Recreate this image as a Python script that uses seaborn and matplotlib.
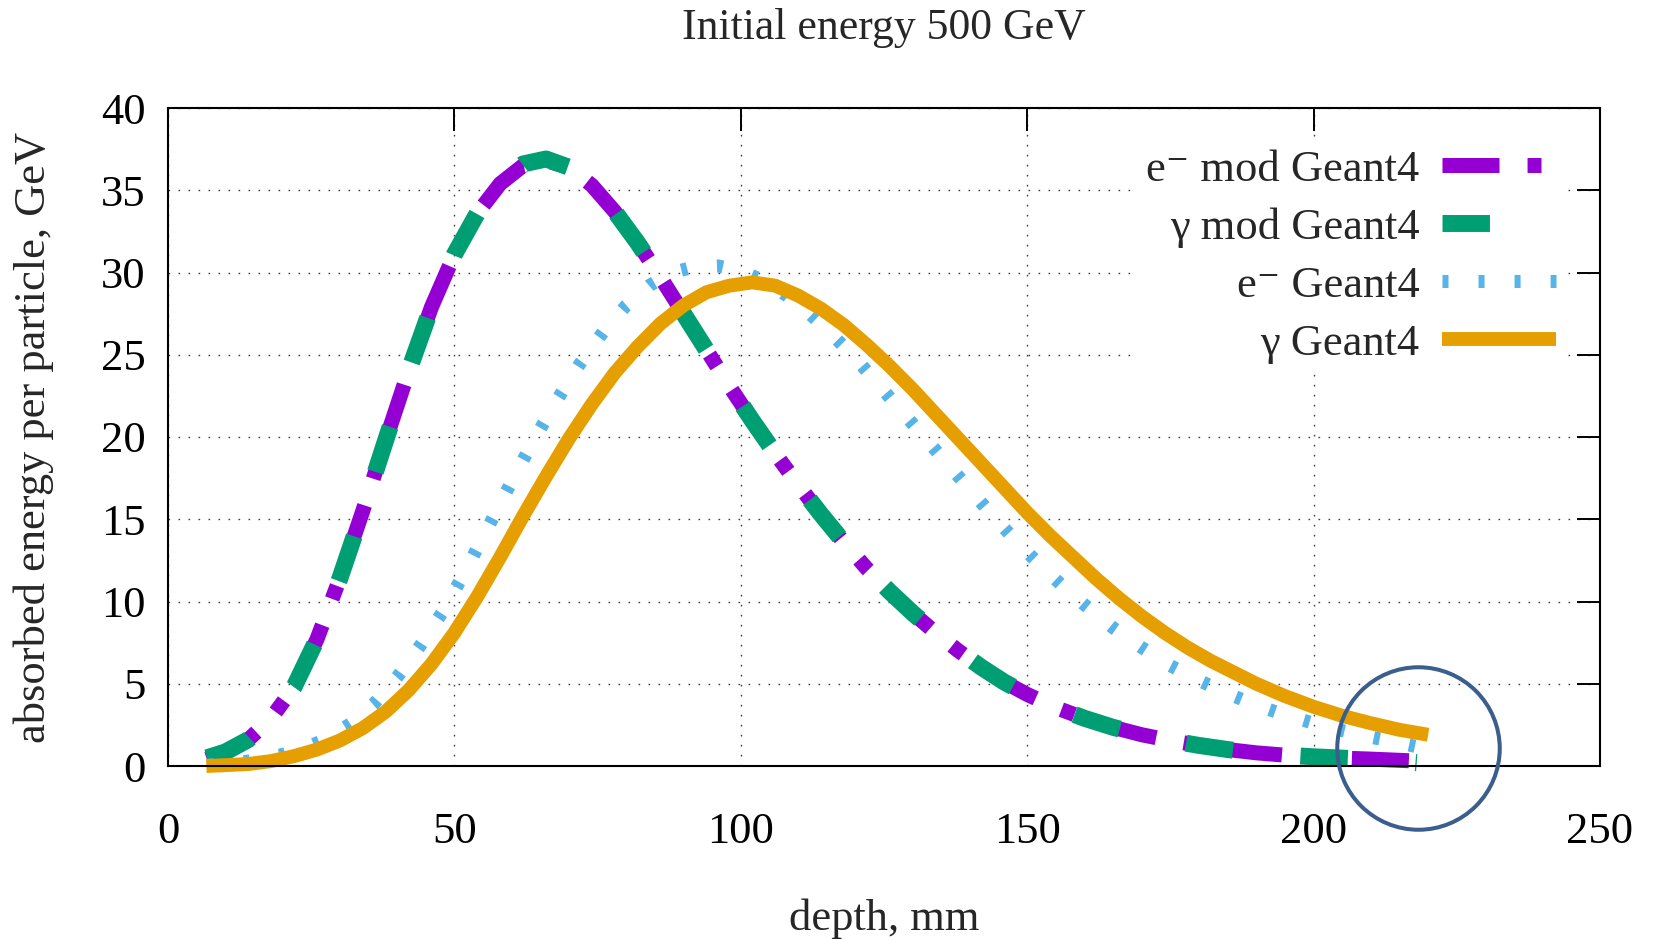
import matplotlib
matplotlib.use("Agg")
import matplotlib.pyplot as plt
import seaborn as sns

# depth (mm) and absorbed energy per particle (GeV)
depth_mod = [6.8, 10, 14, 18, 22, 26, 30, 34, 38, 42, 46, 50, 54, 58, 62, 66, 70,
             74, 78, 82, 86, 90, 94, 98, 102, 106, 110, 114, 118, 122, 126, 130,
             134, 138, 142, 146, 150, 155, 160, 165, 170, 175, 180, 185, 190, 195,
             200, 205, 210, 218]
e_mod = [0.4, 0.8, 1.6, 2.9, 4.8, 7.7, 11.4, 15.5, 19.8, 24.0, 27.9, 31.1, 33.6,
         35.4, 36.5, 36.8, 36.4, 35.3, 33.7, 31.8, 29.7, 27.5, 25.3, 23.1, 21.0,
         19.0, 17.1, 15.3, 13.6, 12.0, 10.6, 9.3, 8.1, 7.0, 6.0, 5.1, 4.35, 3.55,
         2.9, 2.35, 1.9, 1.55, 1.25, 1.0, 0.8, 0.66, 0.56, 0.48, 0.42, 0.3]
gamma_mod = [0.5, 0.85, 1.6, 2.9, 4.8, 7.7, 11.4, 15.5, 19.8, 24.0, 27.9, 31.1, 33.6,
             35.5, 36.6, 36.9, 36.4, 35.3, 33.7, 31.8, 29.7, 27.5, 25.3, 23.1, 21.0,
             19.0, 17.1, 15.3, 13.6, 12.0, 10.6, 9.3, 8.1, 7.0, 6.0, 5.1, 4.35, 3.55,
             2.9, 2.35, 1.9, 1.55, 1.25, 1.0, 0.8, 0.66, 0.56, 0.48, 0.4, 0.2]

depth_geant = [7, 12, 16, 20, 24, 28, 32, 36, 40, 44, 48, 52, 56, 60, 64, 68, 72,
               76, 80, 84, 88, 92, 96, 100, 104, 108, 112, 116, 120, 124, 128, 132,
               136, 140, 144, 148, 152, 156, 160, 165, 170, 175, 180, 185, 190, 195,
               200, 205, 210, 215, 219]
e_geant = [0.05, 0.2, 0.4, 0.7, 1.1, 1.7, 2.6, 3.8, 5.4, 7.3, 9.4, 11.9, 14.6, 17.3,
           19.9, 22.3, 24.5, 26.4, 28.0, 29.2, 30.0, 30.35, 30.4, 30.1, 29.5, 28.6,
           27.5, 26.2, 24.8, 23.2, 21.6, 20.0, 18.4, 16.8, 15.2, 13.7, 12.3, 11.0,
           9.8, 8.4, 7.2, 6.1, 5.2, 4.4, 3.7, 3.1, 2.6, 2.15, 1.75, 1.4, 1.1]

depth_gamma = [6.7, 10, 14, 18, 22, 26, 30, 34, 38, 42, 46, 50, 54, 58, 62, 66, 70,
               74, 78, 82, 86, 90, 94, 98, 102, 106, 110, 114, 118, 122, 126, 130,
               134, 138, 142, 146, 150, 154, 158, 162, 166, 170, 174, 178, 182, 186,
               190, 195, 200, 205, 210, 215, 220]
gamma_geant = [0.0, 0.05, 0.12, 0.3, 0.6, 1.0, 1.55, 2.3, 3.3, 4.6, 6.2, 8.1, 10.3,
               12.7, 15.2, 17.6, 19.9, 22.0, 23.9, 25.5, 26.9, 28.0, 28.8, 29.2, 29.4,
               29.2, 28.6, 27.8, 26.8, 25.6, 24.3, 22.9, 21.4, 19.9, 18.4, 16.9, 15.4,
               14.0, 12.7, 11.4, 10.2, 9.1, 8.1, 7.2, 6.4, 5.7, 5.0, 4.25, 3.6, 3.05,
               2.6, 2.2, 1.9]

labels = ["e\u207b mod Geant4", "\u03b3 mod Geant4", "e\u207b Geant4", "\u03b3 Geant4"]
colors = ["#9400d3", "#009e73", "#56b4e9", "#e69f00"]

# highlighted end region
mark_depth = [218.2]
mark_energy = [1.1]

sns.set_style("white")
plt.rcParams["font.family"] = ["Liberation Serif", "DejaVu Serif"]
plt.rcParams["font.size"] = 32

fig = plt.figure(figsize=(16.53, 9.40), dpi=100)
ax = fig.add_axes([168 / 1653, 1 - 766 / 940, 1432 / 1653, 658 / 940])

line_kw = dict(sort=False, clip_on=False, solid_joinstyle="round",
               dash_joinstyle="round", solid_capstyle="butt", dash_capstyle="butt")
sns.lineplot(x=depth_mod, y=e_mod, ax=ax, color=colors[0], linewidth=10.8,
             linestyle=(0, (3.8, 1.87, 0.93, 1.87)), label=labels[0], **line_kw)
sns.lineplot(x=depth_mod, y=gamma_mod, ax=ax, color=colors[1], linewidth=12.2,
             linestyle=(0, (2.8, 4.0)), label=labels[1], **line_kw)
sns.lineplot(x=depth_geant, y=e_geant, ax=ax, color=colors[2], linewidth=9.4,
             linestyle=(0, (0.46, 2.3)), label=labels[2], **line_kw)
sns.lineplot(x=depth_gamma, y=gamma_geant, ax=ax, color=colors[3], linewidth=10,
             linestyle="-", label=labels[3], **line_kw)

ax.plot(mark_depth, mark_energy, ls="none", marker="o", ms=117, mfc="none",
        mec="#3b5e8c", mew=2.9, clip_on=False, zorder=6)

ax.set_xlim(0, 250)
ax.set_ylim(0, 40)
ax.set_xticks([0, 50, 100, 150, 200, 250])
ax.set_yticks(range(0, 41, 5))
ax.grid(True, color="0.25", linestyle=(0, (1.2, 6)), linewidth=1.0)
for s in ax.spines.values():
    s.set_color("black")
    s.set_linewidth(1.5)
ax.tick_params(direction="in", length=16.5, width=1.4, top=True, right=True,
               labelsize=32, colors="black")
ax.tick_params(axis="x", pad=33)
ax.tick_params(axis="y", pad=16)

ax.set_title("Initial energy 500 GeV", fontsize=31.5, pad=50)
ax.set_xlabel("depth, mm", fontsize=32)
ax.set_ylabel("absorbed energy per particle, GeV", fontsize=32)
ax.xaxis.set_label_coords(0.5, -0.202)
ax.yaxis.set_label_coords(-0.0795, 0.5)

leg = ax.legend(loc="upper right", bbox_to_anchor=(0.9755, 0.9505), markerfirst=False,
                frameon=True, facecolor="white", edgecolor="none", framealpha=1,
                fancybox=False, fontsize=32, handlelength=2.57, handletextpad=0.5,
                labelspacing=0.40, borderpad=0.2, borderaxespad=0)

fig.savefig("out.png", dpi=100)
